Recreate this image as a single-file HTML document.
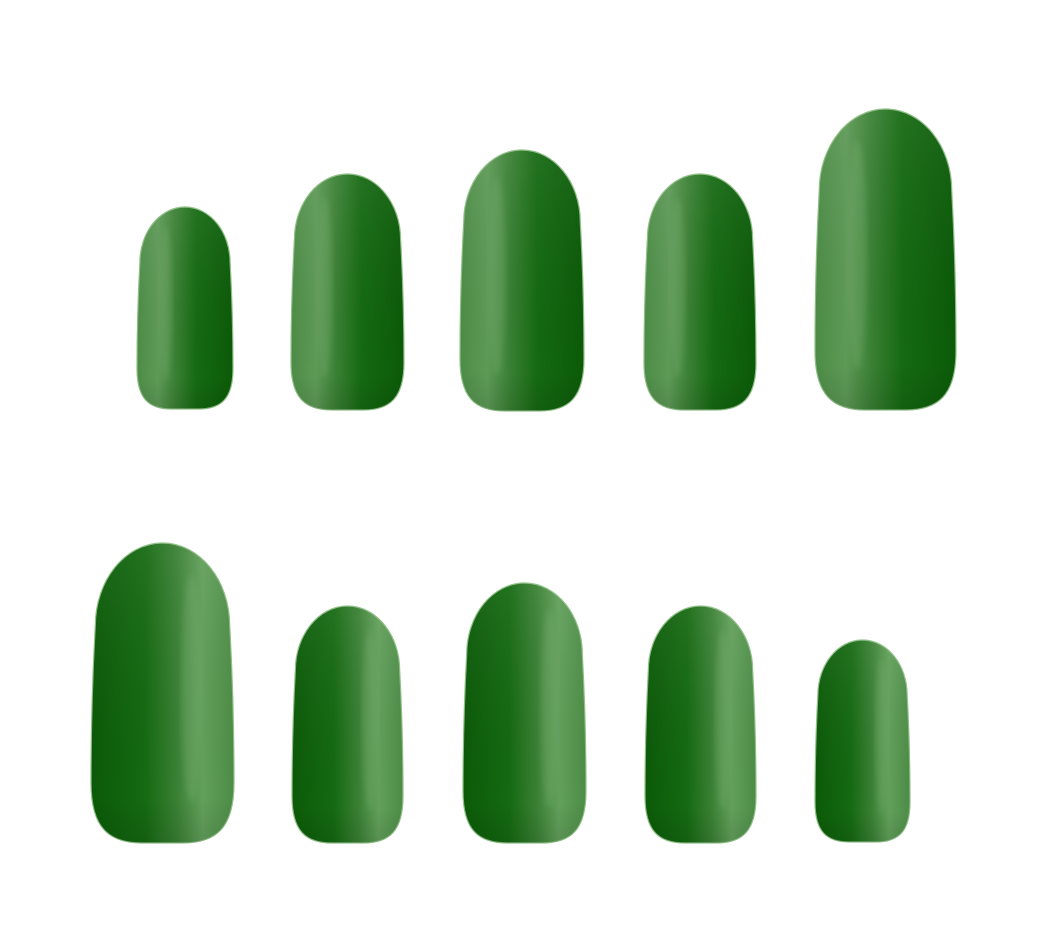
<!DOCTYPE html>
<html>
<head>
<meta charset="utf-8">
<style>
  html,body{margin:0;padding:0;background:#fff;}
  svg{display:block;}
</style>
</head>
<body>
<svg id="nails" width="1046" height="929" viewBox="0 0 1046 929" xmlns="http://www.w3.org/2000/svg">
  <defs>
    <linearGradient id="gTop" x1="0" y1="0" x2="1" y2="0">
      <stop offset="0" stop-color="#4c8c46"/>
      <stop offset="0.22" stop-color="#5e9a57"/>
      <stop offset="0.4" stop-color="#3a8034"/>
      <stop offset="0.62" stop-color="#156a12"/>
      <stop offset="1" stop-color="#0b5a08"/>
    </linearGradient>
    <linearGradient id="gBot" x1="1" y1="0" x2="0" y2="0">
      <stop offset="0" stop-color="#4c8c46"/>
      <stop offset="0.22" stop-color="#62a05b"/>
      <stop offset="0.4" stop-color="#3a8034"/>
      <stop offset="0.62" stop-color="#156a12"/>
      <stop offset="1" stop-color="#0b5a08"/>
    </linearGradient>
    <linearGradient id="gShade" x1="0" y1="0" x2="0" y2="1">
      <stop offset="0" stop-color="#ffffff" stop-opacity="0.06"/>
      <stop offset="0.85" stop-color="#000000" stop-opacity="0"/>
      <stop offset="1" stop-color="#000000" stop-opacity="0.1"/>
    </linearGradient>
    <filter id="blur"><feGaussianBlur stdDeviation="3"/></filter>
  </defs>
</svg>
<script>
// nail geometry: left x, top y, right x, bottom y
const topLeft = [137, 291, 460, 644, 815];
const topRight = [233, 404, 584, 756, 956];
const topTops = [207, 174, 150, 174, 109];
const topBottoms = [409, 410, 411, 410, 410];
const botLeft = [91, 292, 463, 645, 815];
const botRight = [234, 403, 586, 756, 910];
const botTops = [543, 606, 583, 606, 640];
const botBottoms = [843, 843, 843, 843, 842];

const svg = document.getElementById('nails');
const NS = 'http://www.w3.org/2000/svg';

function nailPath(x0, y0, x1, y1) {
  const w = x1 - x0, h = y1 - y0;
  const cx = (x0 + x1) / 2;
  const ry = Math.min(w * 0.58, h * 0.42);
  const inset = w * 0.03;
  const rx = w / 2 - inset;
  const k = 0.5523;
  const rbY = w * 0.42;
  const rbX = w * 0.36;
  return `M ${x0 + inset} ${y0 + ry}
    C ${x0 + inset} ${y0 + ry * (1 - k)}, ${cx - rx * k} ${y0}, ${cx} ${y0}
    C ${cx + rx * k} ${y0}, ${x1 - inset} ${y0 + ry * (1 - k)}, ${x1 - inset} ${y0 + ry}
    C ${x1} ${y0 + ry + (h - ry) * 0.35}, ${x1} ${y1 - rbY - 10}, ${x1} ${y1 - rbY}
    C ${x1} ${y1 - rbY * 0.25}, ${x1 - rbX * 0.35} ${y1}, ${x1 - rbX} ${y1}
    L ${x0 + rbX} ${y1}
    C ${x0 + rbX * 0.35} ${y1}, ${x0} ${y1 - rbY * 0.25}, ${x0} ${y1 - rbY}
    C ${x0} ${y1 - rbY - 10}, ${x0} ${y0 + ry + (h - ry) * 0.35}, ${x0 + inset} ${y0 + ry} Z`;
}

function drawRow(lefts, rights, tops, bottoms, grad, rowName, flip) {
  for (let i = 0; i < lefts.length; i++) {
    const g = document.createElementNS(NS, 'g');
    
    
    const d = nailPath(lefts[i], tops[i], rights[i], bottoms[i]);
    const p = document.createElementNS(NS, 'path');
    p.setAttribute('d', d);
    p.setAttribute('fill', 'url(#' + grad + ')');
    p.setAttribute('stroke', '#8fbf86');
    p.setAttribute('stroke-width', '1.2');
    g.appendChild(p);
    const s = document.createElementNS(NS, 'path');
    s.setAttribute('d', d);
    s.setAttribute('fill', 'url(#gShade)');
    g.appendChild(s);
    const w = rights[i] - lefts[i];
    const hx = flip ? rights[i] - w * 0.3 : lefts[i] + w * 0.3;
    const hl = document.createElementNS(NS, 'ellipse');
    hl.setAttribute('cx', hx);
    hl.setAttribute('cy', (tops[i] + bottoms[i]) / 2 - 5);
    hl.setAttribute('rx', w * 0.07);
    hl.setAttribute('ry', (bottoms[i] - tops[i]) * 0.38);
    hl.setAttribute('fill', '#9cc994');
    hl.setAttribute('opacity', '0.18');
    hl.setAttribute('filter', 'url(#blur)');
    g.appendChild(hl);
    svg.appendChild(g);
  }
}

drawRow(topLeft, topRight, topTops, topBottoms, 'gTop', 'top-row', false);
drawRow(botLeft, botRight, botTops, botBottoms, 'gBot', 'bottom-row', true);
</script>
</body>
</html>
